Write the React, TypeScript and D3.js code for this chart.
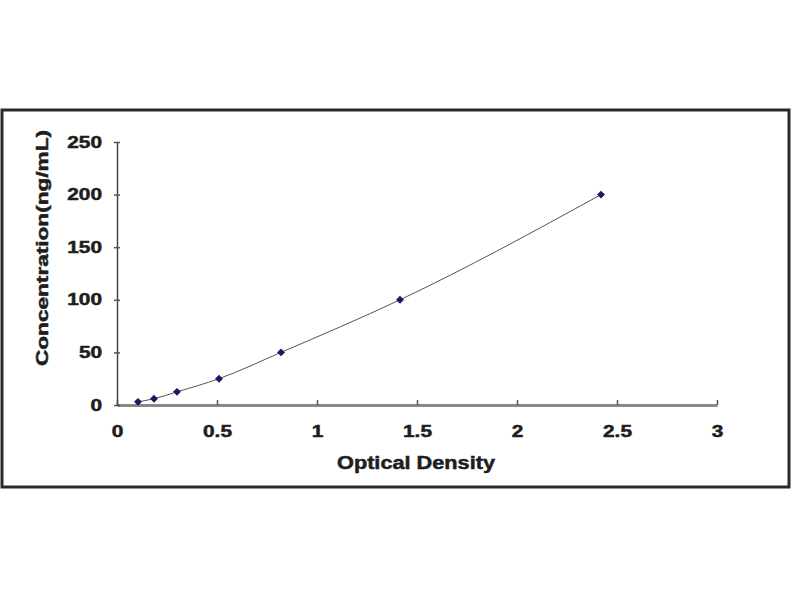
import React, { useEffect, useRef } from 'react';
import * as d3 from 'd3';

// standard curve readings
const opticalDensity = [0.105, 0.185, 0.30, 0.51, 0.82, 1.415, 2.42];
const concentration = [3, 6, 12.5, 25, 50, 100, 200];
const xTicks = [0, 0.5, 1, 1.5, 2, 2.5, 3];
const yTicks = [0, 50, 100, 150, 200, 250];

const StandardCurve: React.FC = () => {
  const svgRef = useRef<SVGSVGElement>(null);

  useEffect(() => {
    if (!svgRef.current) return;
    const svg = d3.select(svgRef.current);
    svg.selectAll('*').remove();

    const width = 800;
    const height = 600;
    const plot = { left: 117, right: 717, top: 142, bottom: 405 };

    svg.attr('width', width).attr('height', height);

    svg.append('rect')
      .attr('width', width)
      .attr('height', height)
      .attr('fill', '#fff');

    // outer chart frame
    svg.append('rect')
      .attr('x', 2)
      .attr('y', 110)
      .attr('width', 787)
      .attr('height', 377)
      .attr('fill', '#fff')
      .attr('stroke', '#2a2a2a')
      .attr('stroke-width', 3);

    const x = d3.scaleLinear().domain([0, 3]).range([plot.left, plot.right]);
    const y = d3.scaleLinear().domain([0, 250]).range([plot.bottom, plot.top]);

    const font = 'Arial, "Liberation Sans", sans-serif';

    // widen glyphs a bit, the original uses a heavy wide face
    const widen = (sel: d3.Selection<any, any, any, any>, factor: number) => {
      sel.each(function () {
        const el = this as SVGTextElement;
        const len = el.getComputedTextLength();
        d3.select(el)
          .attr('textLength', len * factor)
          .attr('lengthAdjust', 'spacingAndGlyphs');
      });
    };

    const styleText = (sel: d3.Selection<any, any, any, any>, size: number) => {
      sel.style('font-family', font)
        .style('font-size', `${size}px`)
        .style('font-weight', 'bold')
        .attr('fill', '#1e1e1e')
        .attr('stroke', '#1e1e1e')
        .attr('stroke-width', 0.5);
    };

    // x axis
    const xAxis = svg.append('g')
      .attr('transform', `translate(0,${plot.bottom})`)
      .call(d3.axisBottom(x).tickValues(xTicks).tickSizeInner(-5).tickSizeOuter(0).tickFormat(d => String(d)));
    xAxis.select('.domain').attr('stroke', '#888').attr('stroke-width', 3);
    xAxis.selectAll('.tick line').attr('stroke', '#555').attr('stroke-width', 1.5);
    const xLabels = xAxis.selectAll('.tick text')
      .attr('y', 26)
      .attr('dy', '0.35em');
    styleText(xLabels, 16);
    widen(xLabels, 1.3);

    // y axis
    const yAxis = svg.append('g')
      .attr('transform', `translate(${plot.left},0)`)
      .call(d3.axisLeft(y).tickValues(yTicks).tickSize(3).tickSizeOuter(0));
    yAxis.select('.domain').attr('stroke', '#444').attr('stroke-width', 1.5);
    yAxis.selectAll('.tick line').attr('x1', -3).attr('x2', 3).attr('stroke', '#555').attr('stroke-width', 1.5);
    const yLabels = yAxis.selectAll('.tick text').attr('x', -15);
    styleText(yLabels, 16);
    widen(yLabels, 1.3);

    // axis titles
    const xTitle = svg.append('text')
      .attr('x', 416)
      .attr('y', 463)
      .attr('dy', '0.35em')
      .attr('text-anchor', 'middle')
      .text('Optical Density');
    styleText(xTitle, 18);
    xTitle.attr('textLength', 158).attr('lengthAdjust', 'spacingAndGlyphs');

    const yTitle = svg.append('text')
      .attr('transform', `translate(42,248) rotate(-90)`)
      .attr('dy', '0.35em')
      .attr('text-anchor', 'middle')
      .text('Concentration(ng/mL)');
    styleText(yTitle, 17);
    yTitle.attr('textLength', 236).attr('lengthAdjust', 'spacingAndGlyphs');

    const points = opticalDensity.map((od, i) => [od, concentration[i]] as [number, number]);

    // fitted curve
    const line = d3.line<[number, number]>()
      .x(d => x(d[0]))
      .y(d => y(d[1]))
      .curve(d3.curveMonotoneX);

    svg.append('path')
      .datum(points)
      .attr('d', line)
      .attr('fill', 'none')
      .attr('stroke', '#555')
      .attr('stroke-width', 1);

    // diamond markers
    const diamond = d3.symbol().type(d3.symbolDiamond2).size(40);
    svg.append('g')
      .selectAll('path')
      .data(points)
      .join('path')
      .attr('transform', d => `translate(${x(d[0])},${y(d[1])})`)
      .attr('d', diamond)
      .attr('fill', '#1a1a5e');
  }, []);

  return <svg ref={svgRef} style={{ position: 'absolute', left: 0, top: 0, display: 'block' }} />;
};

export default function App() {
  return <StandardCurve />;
}
